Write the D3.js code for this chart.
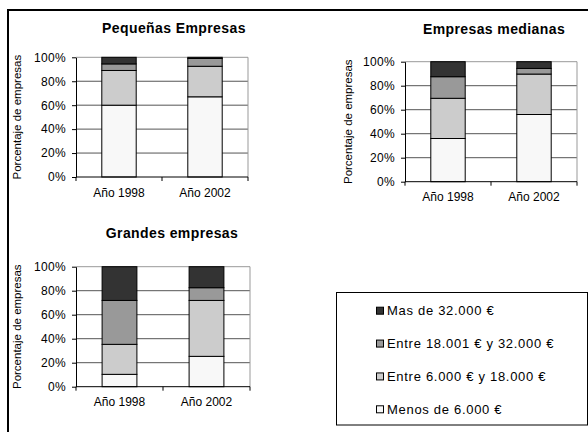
<!DOCTYPE html>
<html>
<head>
<meta charset="utf-8">
<script src="https://cdn.jsdelivr.net/npm/d3@7"></script>
<style>
  body { margin: 0; background: #fff; }
  svg text { font-family: "Liberation Sans", Arial, sans-serif; fill: #000; }
</style>
</head>
<body>
<svg id="chart" width="588" height="432"></svg>
<script>
const categories = ["Año 1998", "Año 2002"];
const seriesNames = ["Menos de 6.000 €", "Entre 6.000 € y 18.000 €", "Entre 18.001 € y 32.000 €", "Mas de 32.000 €"];
const seriesColors = ["#f8f8f8", "#cccccc", "#999999", "#333333"];
const yTicks = [0, 20, 40, 60, 80, 100];

const pequenas = [[60, 29, 5.5, 5.5], [67, 25.5, 6.5, 1]];
const medianas = [[36, 33.5, 18, 12.5], [56, 33.7, 4.7, 5.6]];
const grandes = [[10.3, 25, 36.6, 28.1], [25.3, 46.6, 10.6, 17.5]];

const charts = [
  { title: "Pequeñas Empresas", data: pequenas, x0: 76, x1: 248, yTop: 57.3, yBot: 177, titleX: 174, titleY: 33, axTitleX: 20.5 },
  { title: "Empresas medianas", data: medianas, x0: 405, x1: 577, yTop: 61.7, yBot: 181.7, titleX: 494, titleY: 33.5, axTitleX: 352 },
  { title: "Grandes empresas", data: grandes, x0: 76, x1: 250, yTop: 266.7, yBot: 386.7, titleX: 172, titleY: 238, axTitleX: 20.5 }
];

const svg = d3.select("#chart");

svg.append("path")
  .attr("d", "M8,432 L8,10 L588,10")
  .attr("fill", "none").attr("stroke", "#000").attr("stroke-width", 2);

charts.forEach(c => {
  const g = svg.append("g");
  const x = d3.scaleBand().domain(categories).range([c.x0, c.x1]).paddingInner(0.6).paddingOuter(0.3);
  const y = d3.scaleLinear().domain([0, 100]).range([c.yBot, c.yTop]);

  g.append("rect").attr("x", c.x0).attr("y", c.yTop).attr("width", c.x1 - c.x0).attr("height", c.yBot - c.yTop)
    .attr("fill", "#ffffff");
  g.selectAll(".grid").data(yTicks.filter(t => t > 0 && t < 100)).join("line")
    .attr("x1", c.x0).attr("x2", c.x1)
    .attr("y1", d => y(d)).attr("y2", d => y(d))
    .attr("stroke", "#555").attr("stroke-width", 1);
  g.append("path")
    .attr("d", `M${c.x0},${y(100)} L${c.x1},${y(100)} L${c.x1},${c.yBot}`)
    .attr("fill", "none").attr("stroke", "#999").attr("stroke-width", 1);

  const rows = categories.map((cat, i) => {
    const o = { cat };
    seriesNames.forEach((s, j) => o[s] = c.data[i][j]);
    return o;
  });
  const stack = d3.stack().keys(seriesNames)(rows);
  stack.forEach((layer, j) => {
    g.selectAll(null).data(layer).join("rect")
      .attr("x", d => x(d.data.cat))
      .attr("width", x.bandwidth())
      .attr("y", d => y(d[1]))
      .attr("height", d => y(d[0]) - y(d[1]))
      .attr("fill", seriesColors[j])
      .attr("stroke", "#000").attr("stroke-width", 1);
  });

  const yAxis = g.append("g").attr("transform", `translate(${c.x0},0)`)
    .call(d3.axisLeft(y).tickValues(yTicks).tickFormat(d => d + "%").tickSize(4).tickSizeOuter(0));
  yAxis.selectAll("text").attr("font-size", 12).attr("dx", "-3").attr("letter-spacing", 0.3);
  yAxis.select(".domain").attr("stroke", "#000");

  const xAxis = g.append("g").attr("transform", `translate(0,${c.yBot})`)
    .call(d3.axisBottom(x).tickSize(0).tickPadding(11));
  xAxis.selectAll("text").attr("font-size", 12);
  xAxis.select(".domain").attr("d", `M${c.x0},0H${c.x1}`);
  g.selectAll(null).data([0, 1, 2]).join("line")
    .attr("x1", d => c.x0 + d * (c.x1 - c.x0) / 2).attr("x2", d => c.x0 + d * (c.x1 - c.x0) / 2)
    .attr("y1", c.yBot).attr("y2", c.yBot + 4)
    .attr("stroke", "#000");

  g.append("text").attr("x", c.titleX).attr("y", c.titleY).attr("text-anchor", "middle")
    .attr("font-size", 14).attr("font-weight", "bold").attr("letter-spacing", 0.4).text(c.title);
  g.append("text")
    .attr("transform", `translate(${c.axTitleX},${(c.yTop + c.yBot) / 2}) rotate(-90)`)
    .attr("text-anchor", "middle").attr("font-size", 11.5).text("Porcentaje de empresas");
});

const lg = svg.append("g");
lg.append("rect").attr("x", 336.5).attr("y", 292.5).attr("width", 251).attr("height", 132.5)
  .attr("fill", "#fff").attr("stroke", "#000").attr("stroke-width", 1);
const legendOrder = [3, 2, 1, 0];
const ly = d3.scalePoint().domain(legendOrder).range([310.7, 409.3]);
legendOrder.forEach(j => {
  lg.append("rect").attr("x", 376.5).attr("y", ly(j) - 3.5).attr("width", 7).attr("height", 7)
    .attr("fill", seriesColors[j]).attr("stroke", "#000").attr("stroke-width", 1);
  lg.append("text").attr("x", 387).attr("y", ly(j) + 4.5).attr("font-size", 13).attr("letter-spacing", 0.7).text(seriesNames[j]);
});
</script>
</body>
</html>
